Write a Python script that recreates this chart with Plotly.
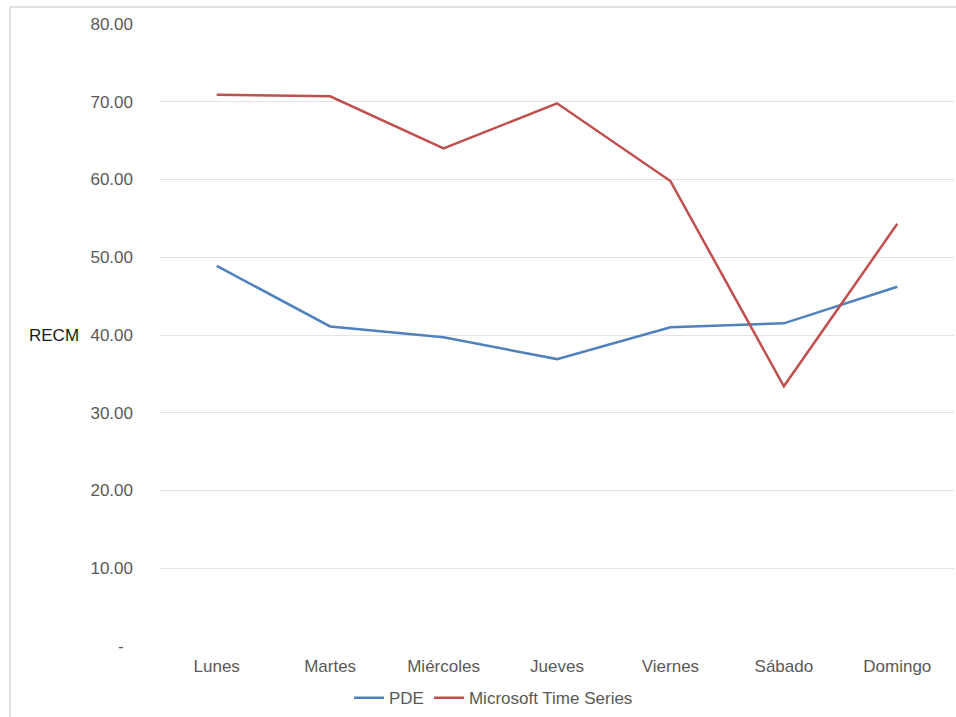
import plotly.graph_objects as go

days = ["Lunes", "Martes", "Miércoles", "Jueves", "Viernes", "Sábado", "Domingo"]
pde = [48.9, 41.1, 39.7, 36.9, 41.0, 41.5, 46.2]
mts = [70.9, 70.7, 64.0, 69.8, 59.8, 33.4, 54.3]
y_ticks = [0, 10, 20, 30, 40, 50, 60, 70, 80]
y_labels = ["-\u00a0\u00a0", "10.00", "20.00", "30.00", "40.00", "50.00", "60.00", "70.00", "80.00"]

fig = go.Figure()
fig.add_trace(go.Scatter(x=days, y=pde, name="PDE", mode="lines",
                         line=dict(color="#4F81BD", width=2.5)))
fig.add_trace(go.Scatter(x=days, y=mts, name="Microsoft Time Series", mode="lines",
                         line=dict(color="#C0504D", width=2.5)))

fig.update_layout(
    width=956, height=717,
    margin=dict(l=160, r=2, t=24, b=71, autoexpand=False),
    paper_bgcolor="white", plot_bgcolor="white",
    font=dict(family="Liberation Sans, Arial, sans-serif", size=17, color="#595959"),
    showlegend=True,
    legend=dict(orientation="h", x=0.42, xanchor="center", y=-0.084, yanchor="middle",
                font=dict(size=17, color="#595959"), itemwidth=30, tracegroupgap=0),
    xaxis=dict(type="category", range=[-0.5, 6.5], showgrid=False, showline=False,
               zeroline=False, ticks="", ticklabelstandoff=8,
               tickfont=dict(size=17, color="#595959")),
    yaxis=dict(range=[0, 80], tickvals=y_ticks, ticktext=y_labels,
               showgrid=True, gridcolor="#E3E3E3", gridwidth=1,
               zeroline=False, showline=False, ticks="", ticklabelstandoff=26,
               tickfont=dict(size=17, color="#595959")),
    annotations=[dict(text="RECM", x=-0.0995, y=40, xref="paper", yref="y",
                      xanchor="right", yanchor="middle",
                      showarrow=False, font=dict(size=17, color="#1a1a1a"))],
    shapes=[dict(type="rect", xref="paper", yref="paper",
                 x0=-0.189, x1=1.05, y0=-0.2, y1=1.0273,
                 line=dict(color="#D9D9D9", width=1.5), layer="below")],
)

fig.write_html("out.html")
